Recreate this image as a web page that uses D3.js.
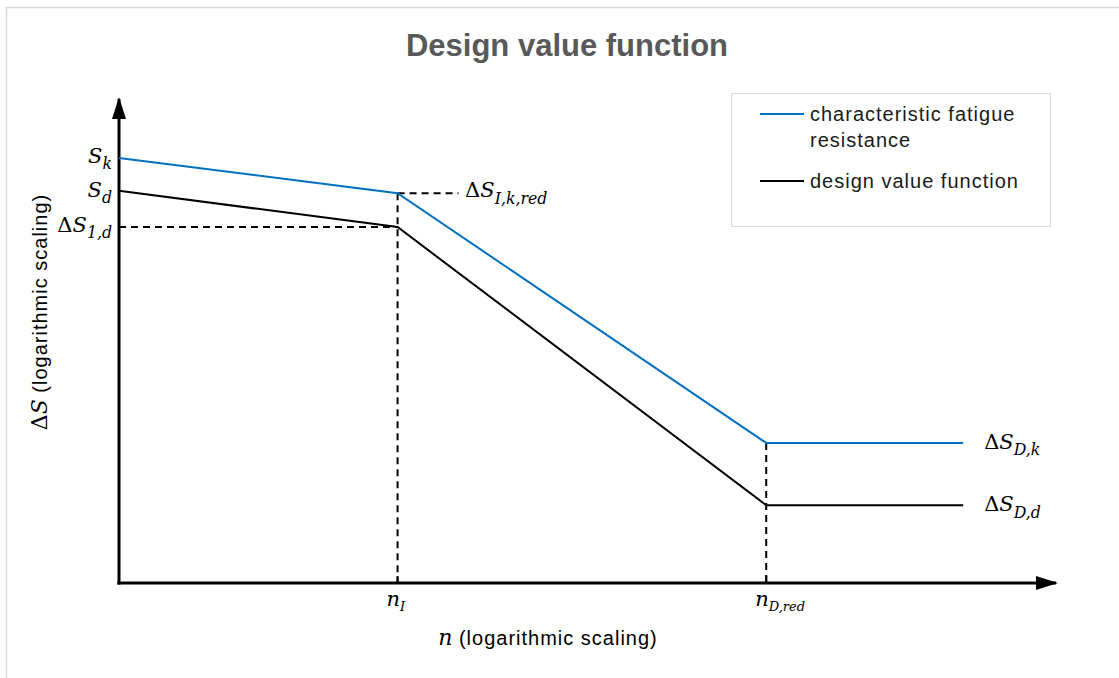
<!DOCTYPE html>
<html>
<head>
<meta charset="utf-8">
<script src="https://cdn.jsdelivr.net/npm/d3@7"></script>
<style>
  body { margin: 0; background: #fff; }
  svg { display: block; }
  .math { font-family: "DejaVu Serif", "Liberation Serif", serif; font-style: italic; }
  .sans { font-family: "Liberation Sans", Arial, sans-serif; }
</style>
</head>
<body>
<div id="chart"></div>
<script>
// break points along n (arbitrary log units)
var nPoints = [0, 2.97, 6.9, 9.0];
var nTickLabels = [null, ['n', 'I'], ['n', 'D,red'], null];
// Delta S values (arbitrary log units)
var charValues = [8.8, 8.07, 2.9, 2.9];
var designValues = [8.12, 7.37, 1.61, 1.61];
var seriesNames = ['characteristic fatigue resistance', 'design value function'];
var seriesColors = ['#0070c0', '#000000'];

var W = 1119, H = 678;
var svg = d3.select('#chart').append('svg').attr('width', W).attr('height', H);

// outer frame
svg.append('rect').attr('x', 6.5).attr('y', 7.5).attr('width', W + 10).attr('height', H + 10)
   .attr('fill', 'none').attr('stroke', '#d9d9d9').attr('stroke-width', 1.5);

svg.append('text').attr('class', 'sans')
   .attr('x', 567).attr('y', 56).attr('text-anchor', 'middle')
   .attr('font-size', 31).attr('font-weight', 'bold').attr('fill', '#595959')
   .text('Design value function');

var x = d3.scaleLinear().domain([0, 10]).range([119, 1057]);
var y = d3.scaleLinear().domain([0, 10]).range([583, 100]);

// arrow markers
var defs = svg.append('defs');
defs.append('marker').attr('id', 'arrow')
    .attr('viewBox', '0 0 22 14').attr('refX', 20).attr('refY', 7)
    .attr('markerWidth', 22).attr('markerHeight', 14).attr('markerUnits', 'userSpaceOnUse')
    .attr('orient', 'auto')
  .append('path').attr('d', 'M0,0 L22,7 L0,14 Z').attr('fill', '#000');

// axes
svg.append('line').attr('x1', x(0)).attr('y1', y(0) + 1.5).attr('x2', x(0)).attr('y2', y(10) - 1)
   .attr('stroke', '#000').attr('stroke-width', 3).attr('marker-end', 'url(#arrow)');
svg.append('line').attr('x1', x(0) - 1.5).attr('y1', y(0)).attr('x2', x(10) - 1).attr('y2', y(0))
   .attr('stroke', '#000').attr('stroke-width', 3).attr('marker-end', 'url(#arrow)');

// ticks on n axis
var tickIdx = [1, 2];
svg.selectAll('line.tick').data(tickIdx).enter().append('line')
   .attr('x1', function(i) { return x(nPoints[i]); })
   .attr('x2', function(i) { return x(nPoints[i]); })
   .attr('y1', y(0)).attr('y2', y(0) - 7)
   .attr('stroke', '#000').attr('stroke-width', 2);

// dashed guides
var dash = '7,5';
var guides = [
  [nPoints[1], charValues[1], nPoints[1], 0],
  [0, designValues[1], nPoints[1], designValues[1]],
  [nPoints[1], charValues[1], nPoints[1] + 0.65, charValues[1]],
  [nPoints[2], charValues[2], nPoints[2], 0]
];
svg.selectAll('line.guide').data(guides).enter().append('line')
   .attr('x1', function(d) { return x(d[0]); }).attr('y1', function(d) { return y(d[1]); })
   .attr('x2', function(d) { return x(d[2]); }).attr('y2', function(d) { return y(d[3]); })
   .attr('stroke', '#000').attr('stroke-width', 2).attr('stroke-dasharray', dash);

// the two curves
var line = d3.line().x(function(d, i) { return x(nPoints[i]); }).y(function(d) { return y(d); });
[charValues, designValues].forEach(function(vals, k) {
  svg.append('path').datum(vals).attr('d', line)
     .attr('fill', 'none').attr('stroke', seriesColors[k]).attr('stroke-width', 2);
});

// math label: upright delta, italic base, italic subscript
function mathLabel(xp, yp, delta, base, sub, anchor, size) {
  size = size || 21;
  var t = svg.append('text').attr('x', xp).attr('y', yp)
     .attr('text-anchor', anchor || 'start').attr('font-size', size)
     .attr('font-family', '"DejaVu Serif", "Liberation Serif", serif').attr('fill', '#000');
  if (delta) t.append('tspan').text('Δ');
  t.append('tspan').attr('font-style', 'italic').text(base);
  if (sub) {
    t.append('tspan').attr('font-style', 'italic').attr('font-size', size * 0.75)
     .attr('dy', size * 0.3).text(sub);
  }
  return t;
}

// left labels
mathLabel(x(0) - 7, y(charValues[0]) + 5, false, 'S', 'k', 'end');
mathLabel(x(0) - 7, y(designValues[0]) + 6, false, 'S', 'd', 'end');
mathLabel(x(0) - 7, y(designValues[1]) + 5, true, 'S', '1,d', 'end');
// knee label
mathLabel(x(nPoints[1] + 0.72), y(charValues[1]) + 4, true, 'S', 'I,k,red', 'start');
// right labels
mathLabel(x(9.0) + 21, y(charValues[3]) + 6, true, 'S', 'D,k', 'start');
mathLabel(x(9.0) + 21, y(designValues[3]) + 6, true, 'S', 'D,d', 'start');

// n tick labels
tickIdx.forEach(function(i) {
  var lab = nTickLabels[i];
  var t = svg.append('text').attr('x', x(nPoints[i]) - 11).attr('y', y(0) + 23)
     .attr('font-size', 21).attr('font-family', '"DejaVu Serif", "Liberation Serif", serif')
     .attr('font-style', 'italic');
  t.append('tspan').text(lab[0]);
  t.append('tspan').attr('font-size', 13).attr('dy', 5).text(lab[1]);
});

// axis titles
var xt = svg.append('text').attr('x', 548).attr('y', 645).attr('text-anchor', 'middle')
   .attr('font-size', 20).attr('fill', '#000');
xt.append('tspan').attr('class', 'math').attr('font-size', 22).text('n');
xt.append('tspan').attr('class', 'sans').attr('letter-spacing', 1).text(' (logarithmic scaling)');

var yt = svg.append('text').attr('transform', 'translate(47,312) rotate(-90)')
   .attr('text-anchor', 'middle').attr('font-size', 20).attr('fill', '#000');
yt.append('tspan').attr('font-family', '"DejaVu Serif", serif').attr('font-size', 22).text('Δ');
yt.append('tspan').attr('class', 'math').attr('font-size', 22).text('S');
yt.append('tspan').attr('class', 'sans').attr('letter-spacing', 1).text(' (logarithmic scaling)');

// legend
var lg = svg.append('g');
lg.append('rect').attr('x', 731.5).attr('y', 93.5).attr('width', 319).attr('height', 133)
  .attr('fill', '#fff').attr('stroke', '#d9d9d9').attr('stroke-width', 1);
var legendY = [114, 181];
seriesNames.forEach(function(name, k) {
  lg.append('line').attr('x1', 760).attr('x2', 804).attr('y1', legendY[k]).attr('y2', legendY[k])
    .attr('stroke', seriesColors[k]).attr('stroke-width', 2);
  var t = lg.append('text').attr('class', 'sans').attr('x', 810).attr('y', legendY[k] + 7)
    .attr('font-size', 20).attr('letter-spacing', 1).attr('fill', '#1a1a1a');
  if (k === 0) {
    t.append('tspan').text('characteristic fatigue');
    t.append('tspan').attr('x', 810).attr('dy', 26).text('resistance');
  } else {
    t.text(name);
  }
});
</script>
</body>
</html>
